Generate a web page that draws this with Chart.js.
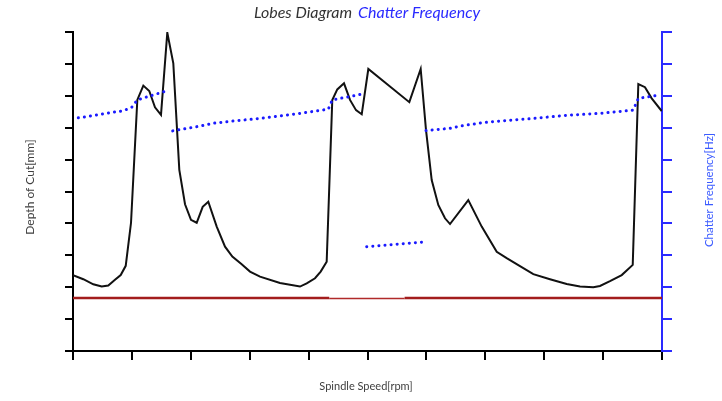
<!DOCTYPE html>
<html>
<head>
<meta charset="utf-8">
<script src="https://cdn.jsdelivr.net/npm/chart.js@4.4.1/dist/chart.umd.min.js"></script>
<style>
html,body{margin:0;padding:0;background:#fff;}
#wrap{position:relative;width:722px;height:401px;}
</style>
</head>
<body>
<div id="wrap"><canvas id="c"></canvas></div>
<script>
// Lobes (stability boundary) – spindle speed (axis units) vs depth of cut
const lobeSpeed = [0,1.75,3.45,4.87,5.99,7.13,8.1,8.95,9.85,10.92,11.94,12.95,13.92,14.94,16.01,17.03,18.05,19.02,20.03,21.0,22.02,22.97,24.4,25.81,27.05,28.64,30.05,31.75,35.14,38.54,39.68,41.09,42.05,43.07,44.02,44.87,46.01,47.03,48.05,49.02,50.14,57.1,59.03,59.93,60.9,62.02,63.16,64.01,67.11,69.39,71.94,73.63,75.89,78.15,80.98,83.82,86.08,88.34,89.47,91.17,93.16,95.03,95.98,97.11,98.25,99.95];
const lobeDepth = [2.38,2.25,2.09,2.02,2.05,2.23,2.38,2.67,4.02,7.87,8.32,8.15,7.64,7.40,9.98,9.02,5.68,4.60,4.11,4.02,4.52,4.68,3.90,3.27,2.96,2.72,2.49,2.33,2.13,2.02,2.12,2.28,2.49,2.80,7.87,8.20,8.39,7.87,7.55,7.42,8.84,7.80,8.84,6.93,5.36,4.58,4.16,3.98,4.73,3.90,3.11,2.91,2.66,2.41,2.25,2.10,2.02,2.00,2.04,2.19,2.38,2.70,8.37,8.27,7.92,7.52];

// Chatter frequency (right axis), null = gap between branches
const chatterSpeed = [0.9,3.45,6.28,8.54,9.97,10.92,13.0,16.01, null, 16.93,19.3,21.56,23.82,27.2,31.75,38.54,43.34,44.02,49.29, null, 49.86,59.2, null, 59.93,64.0,65.7,69.6,72.5,78.1,83.9,89.5,95.1,95.98,99.66];
const chatterFreq  = [7.31,7.38,7.47,7.53,7.64,7.87,7.99,8.16, null, 6.90,6.98,7.05,7.14,7.21,7.29,7.45,7.58,7.87,8.06, null, 3.27,3.41, null, 6.91,6.98,7.05,7.16,7.21,7.29,7.39,7.45,7.55,7.92,8.03];

// Absolute stability limit (outer parts and the thinner middle part)
const limitSpeed = [0, 43.5, null, 56.3, 100];
const limitDepth = [1.66, 1.66, null, 1.66, 1.66];
const limitMidSpeed = [43.5, 56.3];
const limitMidDepth = [1.645, 1.645];

const titleParts = ["Lobes Diagram", "Chatter Frequency"];
const xTitle = "Spindle Speed[rpm]";
const yTitle = "Depth of Cut[mm]";
const y2Title = "Chatter Frequency[Hz]";

const toXY = (xs, ys) => xs.map((x, i) => ({x: x === null ? NaN : x, y: ys[i]}));

const textPlugin = {
  id: 'texts',
  afterDraw(chart) {
    const ctx = chart.ctx;
    ctx.save();
    ctx.textBaseline = 'middle';
    // title
    ctx.font = 'italic 16px Lato';
    const w1 = ctx.measureText(titleParts[0]).width;
    const gap = 6;
    const w2 = ctx.measureText(titleParts[1]).width;
    let x0 = 367 - (w1 + gap + w2) / 2;
    ctx.textAlign = 'left';
    ctx.fillStyle = '#333333';
    ctx.fillText(titleParts[0], x0, 13);
    ctx.fillStyle = '#2a2aff';
    ctx.fillText(titleParts[1], x0 + w1 + gap, 13);
    // axis titles
    ctx.font = '11px Lato';
    ctx.textAlign = 'center';
    ctx.fillStyle = '#404040';
    ctx.fillText(xTitle, 366, 386);
    ctx.save();
    ctx.font = '12px Lato';
    ctx.translate(30, 187);
    ctx.rotate(-Math.PI / 2);
    ctx.fillText(yTitle, 0, 0);
    ctx.restore();
    ctx.save();
    ctx.font = '11.5px Lato';
    ctx.translate(709, 190);
    ctx.rotate(-Math.PI / 2);
    ctx.fillStyle = '#3b5bff';
    ctx.fillText(y2Title, 0, 0);
    ctx.restore();
    ctx.restore();
  }
};

new Chart(document.getElementById('c'), {
  type: 'line',
  data: {
    datasets: [
      {
        label: 'Lobes Diagram',
        data: toXY(lobeSpeed, lobeDepth),
        yAxisID: 'y',
        borderColor: '#111111',
        borderWidth: 2,
        pointRadius: 0,
        tension: 0,
        order: 2
      },
      {
        label: 'Chatter Frequency',
        data: toXY(chatterSpeed, chatterFreq),
        yAxisID: 'y2',
        borderColor: '#1a1aff',
        borderWidth: 3,
        borderDash: [0.1, 6],
        borderCapStyle: 'round',
        pointRadius: 0,
        tension: 0,
        spanGaps: false,
        order: 1
      },
      {
        label: 'Limit',
        data: toXY(limitSpeed, limitDepth),
        yAxisID: 'y',
        borderColor: '#a31d1d',
        borderWidth: 2.5,
        pointRadius: 0,
        spanGaps: false,
        order: 3
      },
      {
        label: 'Limit (middle)',
        data: toXY(limitMidSpeed, limitMidDepth),
        yAxisID: 'y',
        borderColor: '#b02a2a',
        borderWidth: 1.4,
        pointRadius: 0,
        order: 4
      }
    ]
  },
  options: {
    responsive: true,
    maintainAspectRatio: false,
    animation: false,
    layout: { padding: { left: 65, right: 50, top: 32, bottom: 41 } },
    plugins: { legend: { display: false }, title: { display: false }, tooltip: { enabled: false } },
    scales: {
      x: {
        type: 'linear', min: 0, max: 100,
        ticks: { display: false, stepSize: 10 },
        grid: { display: true, drawOnChartArea: false, drawTicks: true, tickLength: 9, color: '#000', lineWidth: 2 },
        border: { display: true, color: '#000', width: 2 }
      },
      y: {
        type: 'linear', position: 'left', min: 0, max: 10,
        ticks: { display: false, stepSize: 1 },
        grid: { display: true, drawOnChartArea: false, drawTicks: true, tickLength: 8, color: '#000', lineWidth: 2 },
        border: { display: true, color: '#000', width: 2 }
      },
      y2: {
        type: 'linear', position: 'right', min: 0, max: 10,
        ticks: { display: false, stepSize: 1 },
        grid: { display: true, drawOnChartArea: false, drawTicks: true, tickLength: 10, color: '#2a2aff', lineWidth: 2 },
        border: { display: true, color: '#2a2aff', width: 2 }
      }
    }
  },
  plugins: [textPlugin]
});
</script>
</body>
</html>
